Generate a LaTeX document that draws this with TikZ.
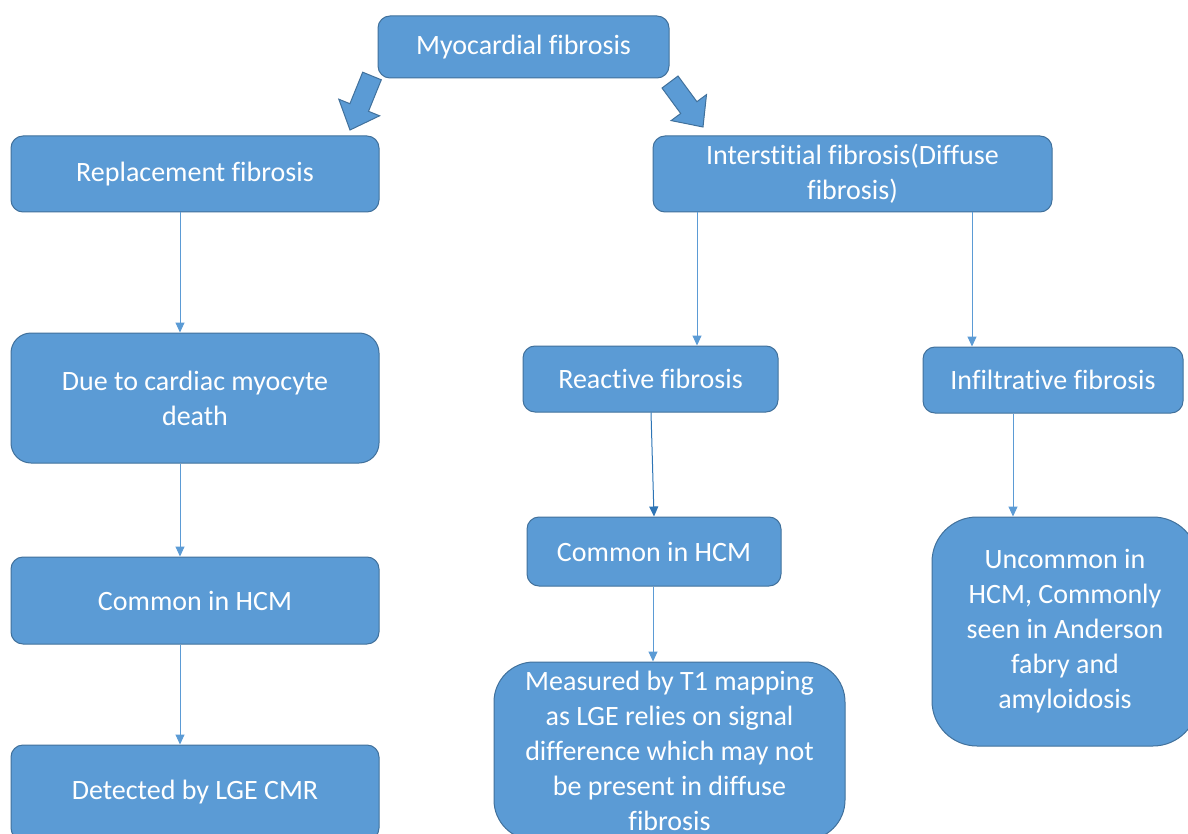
\documentclass[tikz,border=0pt]{standalone}
\usepackage{fontspec}
\setmainfont{Carlito}[Ligatures=NoCommon]
\usetikzlibrary{arrows.meta}
\definecolor{boxfill}{HTML}{5B9BD5}
\definecolor{boxline}{HTML}{41719C}
\definecolor{darkconn}{HTML}{2E75B6}
\begin{document}
\begin{tikzpicture}[x=1pt,y=-1pt,
  box/.style={draw=boxline, line width=1pt, fill=boxfill, text=white,
    font=\fontsize{28}{35}\selectfont, align=center, inner sep=0pt, rounded corners=12pt},
  conn/.style={draw=boxfill, line width=1pt, -{Triangle[width=9pt,length=10pt]}},
  blockarrow/.style={draw=boxline, line width=1pt, fill=boxfill, line join=miter}]
\clip (0,0) rectangle (1188,834);
\fill[white] (0,0) rectangle (1188,834);

\node[box, minimum width=291pt, minimum height=62pt] (myo) at (523.5,47) {Myocardial fibrosis};
\node[box, minimum width=368pt, minimum height=76pt] (repl) at (195,174) {Replacement fibrosis};
\node[box, minimum width=399pt, minimum height=76pt] (inter) at (852.5,174) {Interstitial fibrosis(Diffuse\\fibrosis)};
\node[box, minimum width=368pt, minimum height=130pt, rounded corners=20pt] (due) at (195,398) {Due to cardiac myocyte\\death};
\node[box, minimum width=368pt, minimum height=87pt] (comL) at (195,600.5) {Common in HCM};
\node[box, minimum width=368pt, minimum height=95pt] (det) at (195,792.5) {Detected by LGE CMR};
\node[box, minimum width=255pt, minimum height=66pt] (react) at (650.5,379) {Reactive fibrosis};
\node[box, minimum width=260pt, minimum height=66pt] (infil) at (1053,380) {Infiltrative fibrosis};
\node[box, minimum width=254pt, minimum height=69pt] (comM) at (654,551.5) {Common in HCM};
\node[box, minimum width=351pt, minimum height=178pt, rounded corners=40pt] (meas) at (669.5,751)
  {Measured by T1 mapping\\as LGE relies on signal\\difference which may not\\be present in diffuse\\fibrosis};
\node[box, minimum width=266pt, minimum height=229pt, rounded corners=45pt] (unc) at (1065,631.5)
  {Uncommon in\\HCM, Commonly\\seen in Anderson\\fabry and\\amyloidosis};

% block arrows
\draw[blockarrow] (362.7,72.2) -- (381.3,79.8) -- (368.5,111.3) -- (379.6,115.8) -- (350,130)
  -- (338.8,99.2) -- (349.9,103.7) -- cycle;
\draw[blockarrow] (662,88) -- (678,76) -- (696.9,101.7) -- (706.5,94.6) -- (703,127)
  -- (671.1,120.6) -- (680.7,113.5) -- cycle;

% connectors
\draw[conn] ([xshift=-15pt]repl.south) -- ([xshift=-15pt]due.north);
\draw[conn] ([xshift=-15pt]due.south) -- ([xshift=-15pt]comL.north);
\draw[conn] ([xshift=-15pt]comL.south) -- ([xshift=-15pt]det.north);
\draw[conn] ([xshift=-155.5pt]inter.south) -- ([xshift=46.5pt]react.north);
\draw[conn] ([xshift=119.5pt]inter.south) -- ([xshift=-81pt]infil.north);
\draw[conn, draw=darkconn] ([xshift=0.5pt]react.south) -- (comM.north);
\draw[conn] ([xshift=-1pt]comM.south) -- ([xshift=-16.5pt]meas.north);
\draw[conn] ([xshift=-40pt]infil.south) -- ([xshift=-52pt]unc.north);
\end{tikzpicture}
\end{document}
